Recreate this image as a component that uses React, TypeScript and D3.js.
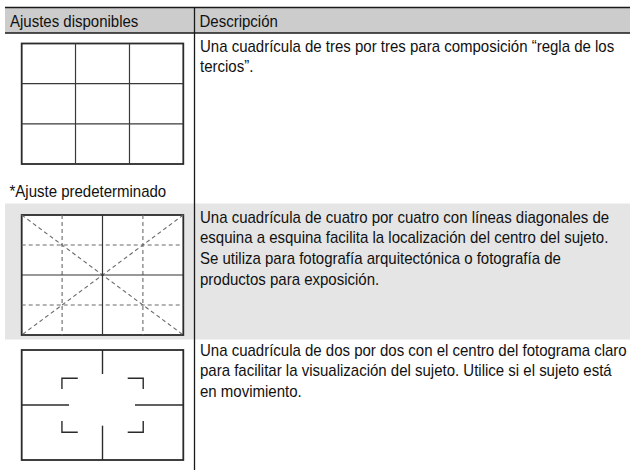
import React from 'react';
import * as d3 from 'd3';

// table text
const headers = ['Ajustes disponibles', 'Descripción'];
const defaultNote = '*Ajuste predeterminado';
const descriptions = [
  ['Una cuadrícula de tres por tres para composición “regla de los', 'tercios”.'],
  [
    'Una cuadrícula de cuatro por cuatro con líneas diagonales de',
    'esquina a esquina facilita la localización del centro del sujeto.',
    'Se utiliza para fotografía arquitectónica o fotografía de',
    'productos para exposición.',
  ],
  [
    'Una cuadrícula de dos por dos con el centro del fotograma claro',
    'para facilitar la visualización del sujeto. Utilice si el sujeto está',
    'en movimiento.',
  ],
];

// grid guides, in fractions of the frame: [x1, y1, x2, y2]
const gridThirds = [
  [0.333, 0, 0.333, 1],
  [0.667, 0, 0.667, 1],
  [0, 0.333, 1, 0.333],
  [0, 0.667, 1, 0.667],
];
const gridFourSolid = [
  [0.5, 0, 0.5, 1],
  [0, 0.5, 1, 0.5],
];
const gridFourDashed = [
  [0.25, 0, 0.25, 1],
  [0.75, 0, 0.75, 1],
  [0, 0.25, 1, 0.25],
  [0, 0.75, 1, 0.75],
  [0, 0, 1, 1],
  [1, 0, 0, 1],
];
const gridTwo = [
  [0.5, 0, 0.5, 0.218],
  [0.5, 0.688, 0.5, 1],
  [0, 0.5, 0.293, 0.5],
  [0.701, 0.5, 1, 0.5],
];
// corner brackets: polylines of [x, y]
const gridTwoBrackets = [
  [[0.347, 0.257], [0.249, 0.257], [0.249, 0.355]],
  [[0.656, 0.257], [0.752, 0.257], [0.752, 0.355]],
  [[0.249, 0.645], [0.249, 0.748], [0.347, 0.748]],
  [[0.752, 0.645], [0.752, 0.748], [0.656, 0.748]],
];

const W = 630;
const H = 470;
const FONT = '"Liberation Sans", Arial, Helvetica, sans-serif';
const FS = 17;
const SX = 0.883;
const LINE = 20.7;

const frameX = [21.7, 183.3];
const rows = [
  { frame: [43.5, 164], textY: 51.5 },
  { frame: [215, 335], textY: 222.5 },
  { frame: [350, 460], textY: 355.5 },
];

function Label({ x, y, children }: { x: number; y: number; children: React.ReactNode }) {
  return (
    <text
      transform={`translate(${x},${y}) scale(${SX},1)`}
      fontFamily={FONT}
      fontSize={FS}
      fill="#111111"
    >
      {children}
    </text>
  );
}

function Frame({ top, bottom, idx }: { top: number; bottom: number; idx: number }) {
  const x = d3.scaleLinear().domain([0, 1]).range(frameX);
  const y = d3.scaleLinear().domain([0, 1]).range([top, bottom]);
  const seg = (d: number[], key: string, stroke: string, dash?: string, sw = 1.2) => (
    <line
      key={key}
      x1={x(d[0])}
      y1={y(d[1])}
      x2={x(d[2])}
      y2={y(d[3])}
      stroke={stroke}
      strokeWidth={sw}
      strokeDasharray={dash}
    />
  );
  const poly = d3
    .line<number[]>()
    .x((p) => x(p[0]))
    .y((p) => y(p[1]));

  return (
    <g>
      <rect
        x={x(0)}
        y={y(0)}
        width={x(1) - x(0)}
        height={y(1) - y(0)}
        fill="#ffffff"
        stroke="#2b2b2b"
        strokeWidth={1.8}
      />
      {idx === 0 && gridThirds.map((d, i) => seg(d, 't' + i, '#3a3a3a'))}
      {idx === 1 && (
        <g>
          {gridFourDashed.map((d, i) => seg(d, 'd' + i, '#6a6a6a', '4,3', 1.1))}
          {gridFourSolid.map((d, i) => seg(d, 's' + i, '#333333'))}
        </g>
      )}
      {idx === 2 && (
        <g>
          {gridTwo.map((d, i) => seg(d, 'c' + i, '#2b2b2b', undefined, 1.4))}
          {gridTwoBrackets.map((b, i) => (
            <path key={'b' + i} d={poly(b) || ''} fill="none" stroke="#2b2b2b" strokeWidth={1.4} />
          ))}
        </g>
      )}
    </g>
  );
}

export default function App() {
  return (
    <svg
      width={W}
      height={H}
      viewBox={`0 0 ${W} ${H}`}
      style={{ position: 'absolute', left: 0, top: 0, background: '#ffffff' }}
    >
      {/* header */}
      <rect x={5} y={7.5} width={W - 5} height={25.5} fill="#cccccc" />
      <line x1={5} x2={W} y1={7.5} y2={7.5} stroke="#1a1a1a" strokeWidth={1.4} />
      <line x1={5} x2={W} y1={33} y2={33} stroke="#1a1a1a" strokeWidth={1.4} />
      <Label x={10} y={26.5}>{headers[0]}</Label>
      <Label x={199.5} y={26.5}>{headers[1]}</Label>

      {/* shaded default row */}
      <rect x={5} y={203.5} width={W - 5} height={136} fill="#e5e5e5" />
      <Label x={9.5} y={196.5}>{defaultNote}</Label>

      {rows.map((r, i) => (
        <g key={i}>
          <Frame top={r.frame[0]} bottom={r.frame[1]} idx={i} />
          {descriptions[i].map((t, j) => (
            <Label key={j} x={200} y={r.textY + j * LINE}>{t}</Label>
          ))}
        </g>
      ))}

      {/* column divider */}
      <line x1={194.5} x2={194.5} y1={7.5} y2={H} stroke="#1a1a1a" strokeWidth={1.3} />
    </svg>
  );
}
